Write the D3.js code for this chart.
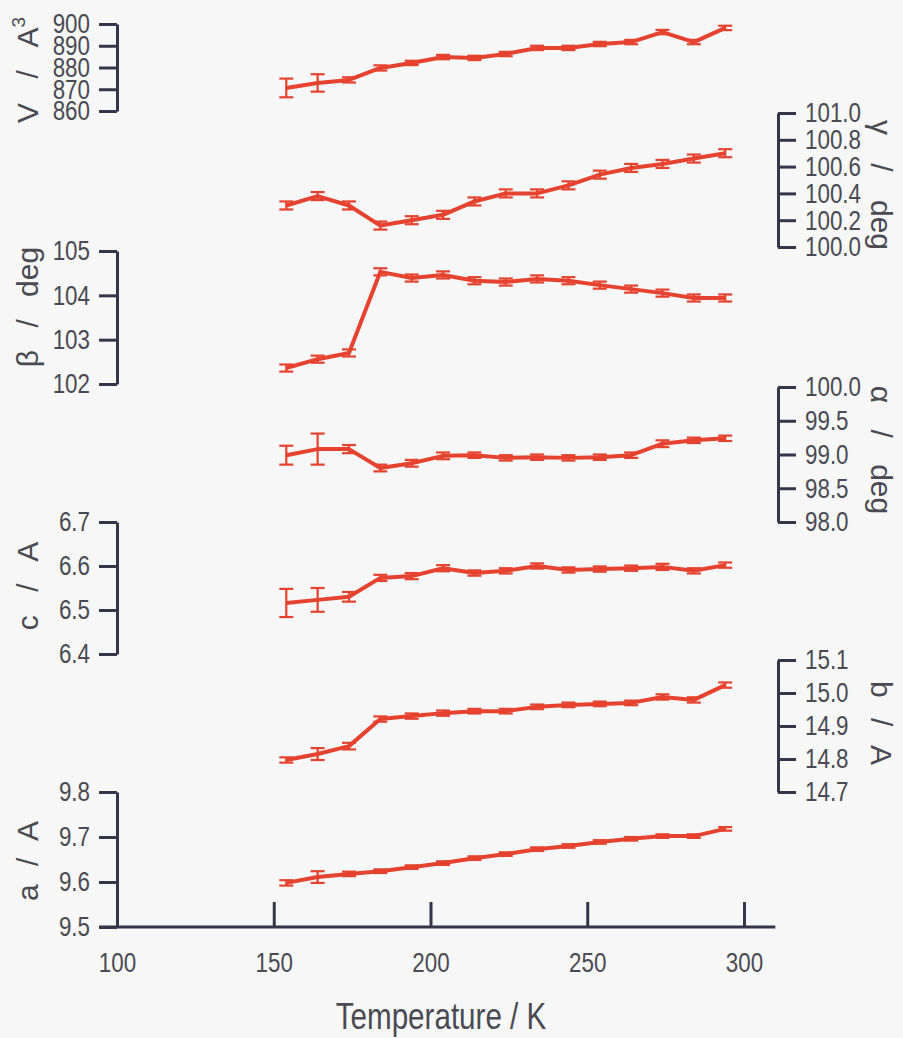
<!DOCTYPE html>
<html>
<head>
<meta charset="utf-8">
<script src="https://cdn.jsdelivr.net/npm/d3@7"></script>
<style>
body { margin: 0; background: #f7f7f7; }
svg { display: block; }
.tick text { font-family: "Liberation Sans", Arial, sans-serif; font-size: 28px; fill: #4a4a52; }
.title { font-family: "Liberation Sans", Arial, sans-serif; font-size: 30px; fill: #4a4a52; }
</style>
</head>
<body>
<div id="chart"></div>
<script>
// temperatures (K)
var temps = [154, 164, 174, 184, 194, 204, 214, 224, 234, 244, 254, 264, 274, 284, 294];

var volume    = [870.6, 872.9, 874.3, 879.8, 882.1, 884.8, 884.4, 886.2, 889.0, 889.0, 890.8, 891.7, 896.3, 891.7, 898.2];
var volumeErr = [4.3, 4.0, 1.2, 1.2, 1.0, 1.0, 1.0, 1.0, 1.0, 1.0, 1.0, 1.0, 1.0, 1.0, 1.0];
var gamma     = [100.31, 100.38, 100.31, 100.16, 100.20, 100.24, 100.34, 100.40, 100.40, 100.46, 100.54, 100.59, 100.62, 100.66, 100.70];
var gammaErr  = [0.03, 0.03, 0.03, 0.03, 0.03, 0.03, 0.03, 0.03, 0.03, 0.03, 0.03, 0.03, 0.03, 0.03, 0.03];
var beta      = [102.36, 102.56, 102.70, 104.53, 104.39, 104.46, 104.33, 104.30, 104.37, 104.33, 104.23, 104.14, 104.05, 103.94, 103.94];
var betaErr   = [0.08, 0.08, 0.08, 0.08, 0.08, 0.08, 0.08, 0.08, 0.08, 0.08, 0.08, 0.08, 0.08, 0.08, 0.08];
var alpha     = [98.99, 99.08, 99.08, 98.80, 98.87, 98.98, 98.99, 98.95, 98.96, 98.95, 98.96, 98.99, 99.16, 99.21, 99.24];
var alphaErr  = [0.14, 0.23, 0.06, 0.05, 0.05, 0.05, 0.04, 0.04, 0.04, 0.04, 0.04, 0.04, 0.05, 0.04, 0.04];
var cLen      = [6.516, 6.523, 6.530, 6.573, 6.577, 6.595, 6.584, 6.589, 6.600, 6.591, 6.593, 6.595, 6.598, 6.589, 6.602];
var cErr      = [0.032, 0.027, 0.011, 0.007, 0.007, 0.007, 0.006, 0.006, 0.006, 0.006, 0.006, 0.006, 0.007, 0.006, 0.006];
var bLen      = [14.797, 14.815, 14.839, 14.921, 14.930, 14.939, 14.945, 14.945, 14.958, 14.964, 14.967, 14.970, 14.988, 14.979, 15.024];
var bErr      = [0.008, 0.018, 0.010, 0.008, 0.008, 0.008, 0.007, 0.007, 0.007, 0.007, 0.007, 0.007, 0.008, 0.008, 0.008];
var aLen      = [9.598, 9.611, 9.618, 9.624, 9.633, 9.642, 9.653, 9.662, 9.673, 9.680, 9.689, 9.696, 9.702, 9.702, 9.718];
var aErr      = [0.006, 0.013, 0.005, 0.004, 0.004, 0.004, 0.004, 0.004, 0.004, 0.004, 0.004, 0.004, 0.004, 0.004, 0.004];

// tick labels
var xTicks     = [100, 150, 200, 250, 300];
var volTicks   = [860, 870, 880, 890, 900];
var gammaTicks = [100.0, 100.2, 100.4, 100.6, 100.8, 101.0];
var betaTicks  = [102, 103, 104, 105];
var alphaTicks = [98.0, 98.5, 99.0, 99.5, 100.0];
var cTicks     = [6.4, 6.5, 6.6, 6.7];
var bTicks     = [14.7, 14.8, 14.9, 15.0, 15.1];
var aTicks     = [9.5, 9.6, 9.7, 9.8];

var width = 903;
var height = 1038;
var red = "#e5432f";
var ink = "#36364a";
var squeeze = 0.8;   // the figure uses a condensed gothic face

var svg = d3.select("#chart").append("svg")
    .attr("width", width)
    .attr("height", height);

var x = d3.scaleLinear().domain([100, 300]).range([117, 744]);
var leftX = x(100);
var rightX = 778;

var panels = [
    {vals: volume, err: volumeErr, ticks: volTicks,   fmt: "d",   side: "left",  range: [111, 24],  title: "V / A", sup: "3", ty: 70,  ws: 16},
    {vals: gamma,  err: gammaErr,  ticks: gammaTicks, fmt: ".1f", side: "right", range: [247, 113], title: "\u03b3 / deg", ty: 185, ws: 20},
    {vals: beta,   err: betaErr,   ticks: betaTicks,  fmt: "d",   side: "left",  range: [384, 251], title: "\u03b2 / deg", ty: 307, ws: 14},
    {vals: alpha,  err: alphaErr,  ticks: alphaTicks, fmt: ".1f", side: "right", range: [522, 387], title: "\u03b1 / deg", ty: 450, ws: 18},
    {vals: cLen,   err: cErr,      ticks: cTicks,     fmt: ".1f", side: "left",  range: [654, 522], title: "c / A", ty: 586, ws: 15},
    {vals: bLen,   err: bErr,      ticks: bTicks,     fmt: ".1f", side: "right", range: [792, 660], title: "b / A", ty: 723, ws: 12},
    {vals: aLen,   err: aErr,      ticks: aTicks,     fmt: ".1f", side: "left",  range: [927, 792], title: "a / A", ty: 861, ws: 10}
];

function styleAxis(g) {
    g.select(".domain").attr("stroke", ink).attr("stroke-width", 3);
    g.selectAll(".tick line").attr("stroke", ink).attr("stroke-width", 3);
    // narrow the labels without moving their anchor point
    g.selectAll(".tick text").each(function () {
        var t = d3.select(this);
        t.attr("x", (+t.attr("x") || 0) / squeeze)
         .attr("transform", "scale(" + squeeze + ",1)");
    });
}

panels.forEach(function (p) {
    var y = d3.scaleLinear()
        .domain([p.ticks[0], p.ticks[p.ticks.length - 1]])
        .range(p.range);

    var axis = (p.side == "left" ? d3.axisLeft(y) : d3.axisRight(y))
        .tickValues(p.ticks)
        .tickFormat(d3.format(p.fmt))
        .tickSizeInner(18)
        .tickSizeOuter(0)
        .tickPadding(9);

    var g = svg.append("g")
        .attr("transform", "translate(" + (p.side == "left" ? leftX : rightX) + ",0)")
        .call(axis);
    styleAxis(g);

    var pts = temps.map(function (t, i) { return {t: t, v: p.vals[i], e: p.err[i]}; });

    var line = d3.line()
        .x(function (d) { return x(d.t); })
        .y(function (d) { return y(d.v); });

    svg.append("path")
        .datum(pts)
        .attr("fill", "none")
        .attr("stroke", red)
        .attr("stroke-width", 4)
        .attr("stroke-linejoin", "round")
        .attr("d", line);

    var eb = svg.append("g").attr("stroke", red).attr("stroke-width", 2.2);
    eb.selectAll("line.bar").data(pts).enter().append("line")
        .attr("class", "bar")
        .attr("x1", function (d) { return x(d.t); })
        .attr("x2", function (d) { return x(d.t); })
        .attr("y1", function (d) { return y(d.v - d.e); })
        .attr("y2", function (d) { return y(d.v + d.e); });
    [-1, 1].forEach(function (s) {
        eb.selectAll("line.cap" + (s + 1)).data(pts).enter().append("line")
            .attr("class", "cap" + (s + 1))
            .attr("x1", function (d) { return x(d.t) - 7; })
            .attr("x2", function (d) { return x(d.t) + 7; })
            .attr("y1", function (d) { return y(d.v + s * d.e); })
            .attr("y2", function (d) { return y(d.v + s * d.e); });
    });

    var tx = p.side == "left" ? 38 : 871;
    var rot = p.side == "left" ? -90 : 90;
    var t = svg.append("text")
        .attr("class", "title")
        .attr("text-anchor", "middle")
        .attr("word-spacing", p.ws)
        .attr("transform", "translate(" + tx + "," + p.ty + ") rotate(" + rot + ")")
        .text(p.title);
    if (p.sup) {
        t.append("tspan").attr("dy", -13).attr("font-size", 19).text(p.sup);
    }
});

// temperature axis, ticks point up into the plot
var xAxis = d3.axisBottom(x)
    .tickValues(xTicks)
    .tickFormat(d3.format("d"))
    .tickSizeInner(-25)
    .tickSizeOuter(0)
    .tickPadding(25);

var xg = svg.append("g")
    .attr("transform", "translate(0,927)")
    .call(xAxis);
xg.select(".domain").remove();
styleAxis(xg);
xg.append("line")
    .attr("x1", x(100) - 18)
    .attr("x2", x(310))
    .attr("stroke", ink)
    .attr("stroke-width", 3);

svg.append("text")
    .attr("transform", "translate(441,1029) scale(" + squeeze + ",1)")
    .attr("text-anchor", "middle")
    .style("font-family", "'Liberation Sans', Arial, sans-serif")
    .style("font-size", "37px")
    .style("fill", "#4a4a52")
    .text("Temperature / K");
</script>
</body>
</html>
